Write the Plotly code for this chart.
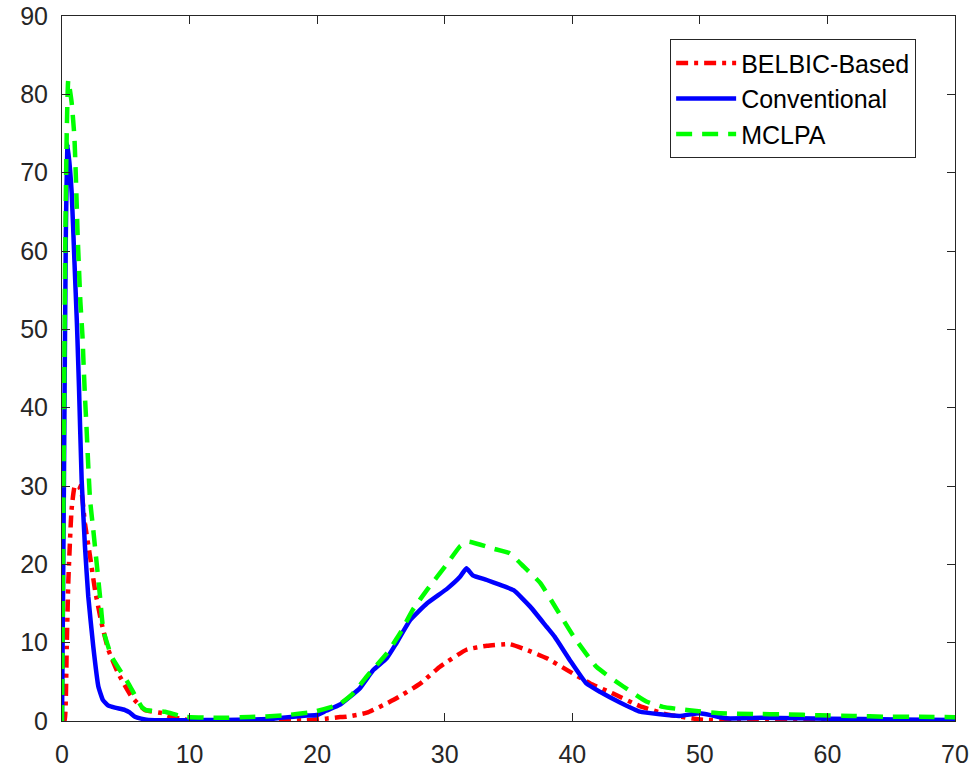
import plotly.graph_objects as go

# BELBIC-Based (red, dash-dot)
belbic_x = [0, 0.2, 0.3, 0.37, 0.5, 0.75, 1.02, 1.3, 1.54, 1.8, 2.2, 2.59, 3.1, 3.63, 4.4, 5.46, 6.5, 7.94, 8.3, 9.5, 11, 15, 19.2, 20.7, 21.8, 22.3, 23.9, 26.0, 28.1, 29.6, 31.7, 33.3, 35.1, 36.4, 38.0, 39.6, 41.4, 43.2, 45.3, 47.4, 50, 52.6, 60, 70]
belbic_y = [0, 0, 2.9, 9.4, 18, 27, 30.1, 30.0, 29.1, 25.2, 21.0, 16.7, 12.5, 9.1, 6.1, 3.1, 1.4, 0.98, 0.7, 0.2, 0.05, 0.05, 0.1, 0.3, 0.5, 0.55, 1.06, 2.7, 4.8, 6.9, 9.1, 9.6, 9.8, 9.1, 8.0, 6.5, 4.8, 3.5, 1.9, 0.85, 0.2, 0.05, 0.05, 0.05]

# Conventional (blue, solid)
conv_x = [0, 0.15, 0.3, 0.44, 0.76, 0.97, 1.18, 1.33, 1.54, 1.8, 2.06, 2.45, 2.85, 3.2, 3.6, 4.15, 4.94, 5.3, 5.72, 6.2, 6.77, 8.6, 10, 12.6, 15, 16.6, 17.1, 19.2, 20, 20.7, 21.8, 22.5, 23.36, 24.4, 25.45, 26.2, 27.3, 28.6, 30.2, 31.2, 31.7, 32.2, 33.3, 34.3, 35.4, 36.7, 38.0, 38.6, 39.8, 41.1, 42.2, 43.7, 45.3, 46.9, 48.4, 50, 51, 52.1, 54.9, 60.2, 65.4, 70]
conv_y = [0, 30, 62, 73.7, 67.4, 58.9, 50.3, 42.7, 30.8, 22.3, 15.9, 9.5, 4.4, 2.7, 2.0, 1.7, 1.4, 1.1, 0.55, 0.3, 0.13, 0.1, 0.1, 0.13, 0.2, 0.3, 0.4, 0.7, 0.77, 1.3, 2.1, 3.0, 4.2, 6.5, 8.0, 9.9, 12.9, 15.0, 16.9, 18.4, 19.5, 18.6, 18.0, 17.4, 16.7, 14.6, 12.0, 10.8, 7.8, 4.8, 3.7, 2.4, 1.2, 0.85, 0.64, 1.0, 0.7, 0.34, 0.4, 0.3, 0.2, 0.13]

# MCLPA (green, dashed)
mclpa_x = [0, 0.1, 0.25, 0.37, 0.49, 0.76, 0.97, 1.07, 1.15, 1.23, 1.33, 1.44, 1.6, 1.7, 1.8, 1.93, 2.06, 2.2, 2.45, 2.72, 2.98, 3.24, 3.9, 5.2, 6.25, 6.6, 8.07, 9.5, 12.1, 14.7, 17.3, 19.8, 21.7, 22.8, 24.1, 25.45, 26.5, 27.5, 28.6, 30.2, 31.2, 31.85, 33.8, 35.1, 36.2, 37.5, 38.8, 40.1, 41.9, 44.0, 45.8, 47.1, 49, 51.6, 54.2, 56.8, 59.4, 62, 64.6, 67.2, 70]
mclpa_y = [0, 25, 60, 75, 81.8, 78.9, 74.6, 70.3, 66.1, 61.8, 57.8, 53.5, 49.3, 45.2, 41.4, 37.2, 32.5, 28.2, 24.4, 20.1, 15.9, 11.6, 8.2, 4.8, 1.8, 1.4, 1.19, 0.55, 0.4, 0.5, 0.7, 1.2, 2.1, 3.5, 6.1, 8.6, 11.2, 14.2, 16.7, 20.1, 22.3, 22.9, 22.0, 21.4, 19.7, 17.6, 14.2, 10.8, 6.9, 4.4, 2.5, 1.8, 1.4, 1.0, 0.9, 0.85, 0.72, 0.64, 0.55, 0.55, 0.47]

x_ticks = [0, 10, 20, 30, 40, 50, 60, 70]
y_ticks = [0, 10, 20, 30, 40, 50, 60, 70, 80, 90]

FONT = "Liberation Sans, Arial, Helvetica, sans-serif"

fig = go.Figure()
fig.add_trace(go.Scatter(x=belbic_x, y=belbic_y, mode="lines", name="BELBIC-Based",
                         line=dict(color="#ff0000", width=4.5, dash="12px,6px,4px,6px", shape="spline", smoothing=0.4)))
fig.add_trace(go.Scatter(x=conv_x, y=conv_y, mode="lines", name="Conventional",
                         line=dict(color="#0000ff", width=4.5, shape="spline", smoothing=0.4)))
fig.add_trace(go.Scatter(x=mclpa_x, y=mclpa_y, mode="lines", name="MCLPA",
                         line=dict(color="#00ff00", width=4.5, dash="16px,10px", shape="spline", smoothing=0.4)))

axis_common = dict(showgrid=False, zeroline=False, showline=True, linecolor="#262626", linewidth=1,
                   mirror="ticks", ticks="inside", ticklen=8, tickcolor="#262626", automargin=False,
                   tickfont=dict(family=FONT, size=25, color="#262626"))

fig.update_layout(
    width=972, height=769,
    margin=dict(l=62, r=17, t=16, b=48, autoexpand=False),
    plot_bgcolor="white", paper_bgcolor="white",
    xaxis=dict(range=[0, 70], tickvals=x_ticks, ticklabelstandoff=11, **axis_common),
    yaxis=dict(range=[0, 90], tickvals=y_ticks, ticklabelstandoff=8, **axis_common),
    legend=dict(x=0.681, y=0.967, xanchor="left", yanchor="top",
                bordercolor="#262626", borderwidth=1, bgcolor="white",
                font=dict(family=FONT, size=25, color="black"),
                itemwidth=60, tracegroupgap=0),
    showlegend=True,
)

fig.write_html("out.html")
